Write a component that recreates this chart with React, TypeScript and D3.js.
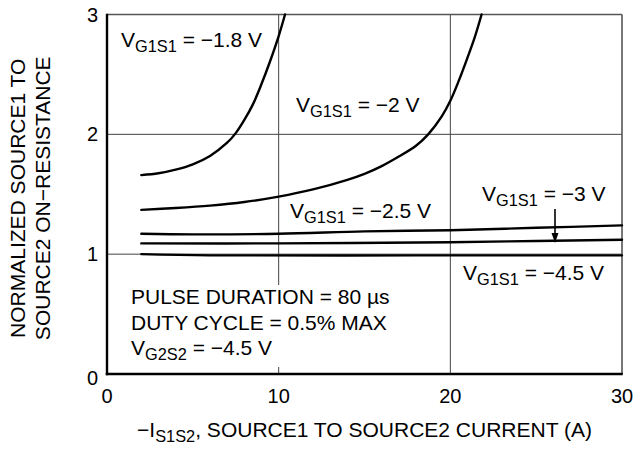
import * as d3 from 'd3';
import React from 'react';

// curves: x = -I_S1S2 (A), y = normalized on-resistance
const x18 = [2, 3, 4, 5, 6, 7, 7.5, 8, 8.5, 9, 9.5, 10, 10.37];
const y18 = [1.66, 1.675, 1.705, 1.75, 1.82, 1.93, 2.01, 2.12, 2.25, 2.42, 2.61, 2.82, 3.0];

const x20 = [2, 4, 6, 8, 10, 12, 14, 15, 16, 17, 18, 18.71, 19.5, 20, 20.5, 21, 21.4, 21.82];
const y20 = [1.37, 1.385, 1.405, 1.435, 1.48, 1.54, 1.62, 1.67, 1.735, 1.815, 1.905, 2.0, 2.15, 2.28, 2.45, 2.64, 2.8, 3.0];

const x25 = [2, 5, 10, 15, 20, 25, 30];
const y25 = [1.17, 1.165, 1.17, 1.19, 1.2, 1.22, 1.24];

const x30 = [2, 10, 20, 25, 30];
const y30 = [1.09, 1.09, 1.1, 1.11, 1.12];

const x45 = [2, 6, 18, 30];
const y45 = [1.0, 0.99, 0.99, 0.99];

const xTicks = [0, 10, 20, 30];
const yTicks = [0, 1, 2, 3];

const width = 638;
const height = 451;
const margin = { left: 107, right: 16, top: 14.5, bottom: 77 };
const font = 'Liberation Sans, Arial, Helvetica, sans-serif';

function zip(xs: number[], ys: number[]) {
  return xs.map((x, i) => [x, ys[i]] as [number, number]);
}

function Sub({ main, sub, rest }: { main: string; sub: string; rest: string }) {
  return (
    <>
      <tspan>{main}</tspan>
      <tspan fontSize="0.78em" dy={5}>{sub}</tspan>
      <tspan dy={-5}>{rest}</tspan>
    </>
  );
}

export default function App() {
  const x = d3.scaleLinear().domain([0, 30]).range([margin.left, width - margin.right]);
  const y = d3.scaleLinear().domain([0, 3]).range([height - margin.bottom, margin.top]);

  const line = d3.line<[number, number]>()
    .x(d => x(d[0]))
    .y(d => y(d[1]))
    .curve(d3.curveCatmullRom.alpha(0.5));

  const series = [zip(x18, y18), zip(x20, y20), zip(x25, y25), zip(x30, y30), zip(x45, y45)];

  const x0 = x(0), x1 = x(30), yb = y(0), yt = y(3);

  return (
    <svg width={width} height={height} style={{ position: 'absolute', left: 0, top: 0, background: '#fff' }}
      fontFamily={font}>
      {/* grid */}
      {xTicks.slice(1, -1).map(t => (
        <line key={'gx' + t} x1={x(t)} x2={x(t)} y1={yt} y2={yb} stroke="#444" strokeWidth={1} />
      ))}
      {yTicks.slice(1, -1).map(t => (
        <line key={'gy' + t} x1={x0} x2={x1} y1={y(t)} y2={y(t)} stroke="#444" strokeWidth={1} />
      ))}
      {/* white box behind the test conditions */}
      <rect x={122} y={285} width={190} height={82} fill="#fff" />

      {/* frame */}
      <line x1={x0} x2={x1} y1={yt} y2={yt} stroke="#555" strokeWidth={1.6} />
      <line x1={x1} x2={x1} y1={yt} y2={yb} stroke="#555" strokeWidth={1.6} />
      <line x1={x0} x2={x0} y1={yt - 0.8} y2={yb + 1.2} stroke="#000" strokeWidth={2.4} />
      <line x1={x0 - 1.2} x2={x1 + 0.8} y1={yb} y2={yb} stroke="#000" strokeWidth={2.4} />

      {/* curves */}
      {series.map((s, i) => (
        <path key={i} d={line(s) || ''} fill="none" stroke="#000" strokeWidth={2.4} strokeLinecap="round" />
      ))}

      {/* arrow to -3 V curve */}
      <line x1={555} x2={555} y1={209} y2={236} stroke="#000" strokeWidth={1.6} />
      <polygon points={`555,243 551.5,233 558.5,233`} fill="#000" />

      {/* tick labels */}
      {xTicks.map(t => (
        <text key={'tx' + t} x={x(t)} y={403} fontSize={20} textAnchor="middle">{t}</text>
      ))}
      {yTicks.map(t => (
        <text key={'ty' + t} x={98} y={y(t) + (t === 0 ? 4 : 0)} fontSize={20} textAnchor="end"
          dominantBaseline="central">{t}</text>
      ))}

      {/* curve labels */}
      <g fontSize={21}>
        <text x={121} y={47}><Sub main="V" sub="G1S1" rest=" = −1.8 V" /></text>
        <text x={296} y={112}><Sub main="V" sub="G1S1" rest=" = −2 V" /></text>
        <text x={290} y={218}><Sub main="V" sub="G1S1" rest=" = −2.5 V" /></text>
        <text x={482} y={201}><Sub main="V" sub="G1S1" rest=" = −3 V" /></text>
        <text x={463} y={280}><Sub main="V" sub="G1S1" rest=" = −4.5 V" /></text>

        <text x={131} y={304}>PULSE DURATION = 80 µs</text>
        <text x={131} y={330}>DUTY CYCLE = 0.5% MAX</text>
        <text x={131} y={355}><Sub main="V" sub="G2S2" rest=" = −4.5 V" /></text>
      </g>

      {/* axis titles */}
      <text x={(x0 + x1) / 2} y={437} fontSize={21} textAnchor="middle">
        <Sub main="−I" sub="S1S2" rest=", SOURCE1 TO SOURCE2 CURRENT (A)" />
      </text>
      <g transform={`translate(0, ${(yt + yb) / 2 + 4}) rotate(-90)`} fontSize={21} textAnchor="middle">
        <text x={0} y={25}>NORMALIZED SOURCE1 TO</text>
        <text x={0} y={50}>SOURCE2 ON−RESISTANCE</text>
      </g>
    </svg>
  );
}
